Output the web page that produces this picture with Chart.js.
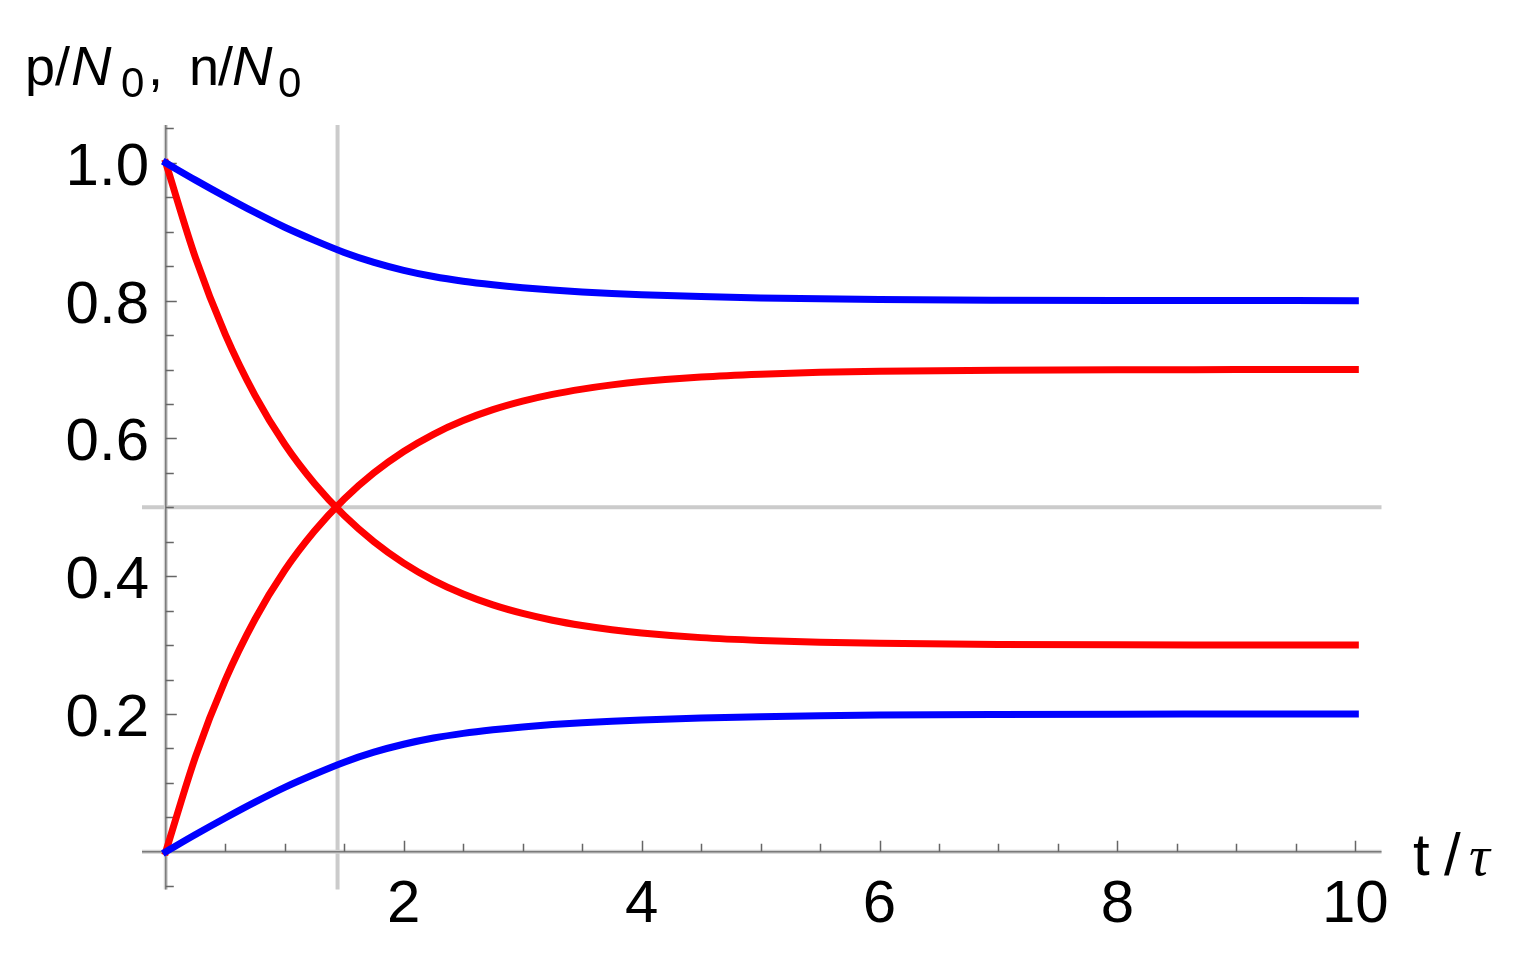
<!DOCTYPE html>
<html>
<head>
<meta charset="utf-8">
<script src="https://cdn.jsdelivr.net/npm/chart.js@4"></script>
<style>
  html, body { margin: 0; padding: 0; background: #fff; }
  canvas { display: block; }
</style>
</head>
<body>
<canvas id="decayChart" width="1515" height="954"></canvas>
<script>
// t / tau sample points
const times = [0, 0.25, 0.5, 0.75, 1, 1.25, 1.5, 1.75, 2, 2.25, 2.5, 2.75, 3, 3.25, 3.5, 3.75, 4, 4.5, 5, 5.5, 6, 7, 8, 9, 10];
const redFalling = [1.0, 0.862, 0.751, 0.6625, 0.5915, 0.5345, 0.488, 0.450, 0.419, 0.394, 0.3741, 0.3583, 0.3459, 0.3361, 0.3284, 0.3223, 0.3175, 0.3108, 0.3067, 0.3041, 0.3025, 0.301, 0.3004, 0.3001, 0.300];
const redRising = [0, 0.138, 0.249, 0.3375, 0.4085, 0.4655, 0.512, 0.550, 0.581, 0.606, 0.6259, 0.6417, 0.6541, 0.6639, 0.6716, 0.6777, 0.6825, 0.6892, 0.6933, 0.6959, 0.6975, 0.699, 0.6996, 0.6999, 0.700];
const blueFalling = [1.0, 0.975, 0.951, 0.928, 0.9065, 0.8875, 0.870, 0.8555, 0.844, 0.835, 0.8282, 0.823, 0.8188, 0.8154, 0.8127, 0.8105, 0.8087, 0.806, 0.804, 0.8026, 0.8016, 0.8007, 0.8003, 0.8001, 0.800];
const blueRising = [0, 0.025, 0.049, 0.072, 0.0935, 0.1125, 0.130, 0.1445, 0.156, 0.165, 0.1718, 0.177, 0.1812, 0.1846, 0.1873, 0.1895, 0.1913, 0.194, 0.196, 0.1974, 0.1984, 0.1993, 0.1997, 0.1999, 0.200];

// ticks and reference lines
const xTickLabels = [2, 4, 6, 8, 10];
const yTickLabels = [0.2, 0.4, 0.6, 0.8, 1.0];
const crossTime = 1.444;
const crossLevel = 0.5;

const pts = ys => times.map((t, i) => ({ x: t, y: ys[i] }));

const FONT = '"Liberation Sans", Arial, sans-serif';

// Mathematica-like axes through the origin, drawn with the chart's own scales
const axesPlugin = {
  id: 'axes',
  beforeDatasetsDraw(chart) {
    const { ctx, chartArea: a, scales: { x, y } } = chart;
    const x0 = x.getPixelForValue(0), y0 = y.getPixelForValue(0);
    ctx.save();

    // grid lines at the crossing point
    ctx.strokeStyle = '#cbcbcb';
    ctx.lineWidth = 4;
    ctx.beginPath();
    const gx = x.getPixelForValue(crossTime), gy = y.getPixelForValue(crossLevel);
    ctx.moveTo(gx, a.top); ctx.lineTo(gx, a.bottom);
    ctx.moveTo(a.left, gy); ctx.lineTo(a.right, gy);
    ctx.stroke();

    // axis lines
    ctx.strokeStyle = '#d0d0d0';
    ctx.lineWidth = 4;
    ctx.beginPath();
    ctx.moveTo(a.left, y0); ctx.lineTo(a.right, y0);
    ctx.moveTo(x0, a.top); ctx.lineTo(x0, a.bottom);
    ctx.stroke();
    ctx.strokeStyle = '#7a7a7a';
    ctx.lineWidth = 1.5;
    ctx.stroke();

    // ticks
    ctx.strokeStyle = '#666';
    ctx.lineWidth = 1.5;
    ctx.beginPath();
    for (let k = 1; k <= 20; k++) {
      const px = Math.round(x.getPixelForValue(k * 0.5)) + 0.5;
      const len = (k % 4 === 0) ? 11 : 8;
      ctx.moveTo(px, y0); ctx.lineTo(px, y0 - len);
    }
    for (let k = -1; k <= 21; k++) {
      if (k === 0) continue;
      const py = Math.round(y.getPixelForValue(k * 0.05)) + 0.5;
      const len = (k % 4 === 0) ? 11 : 8;
      ctx.moveTo(x0, py); ctx.lineTo(x0 + len, py);
    }
    ctx.stroke();

    // tick labels
    ctx.fillStyle = '#000';
    ctx.font = '60px ' + FONT;
    ctx.textBaseline = 'alphabetic';
    ctx.textAlign = 'center';
    xTickLabels.forEach(v => ctx.fillText(String(v), x.getPixelForValue(v), 922));
    ctx.textAlign = 'right';
    yTickLabels.forEach(v => ctx.fillText(v.toFixed(1), 149, y.getPixelForValue(v) + 22));

    // axis titles
    ctx.textAlign = 'left';
    ctx.font = '60px ' + FONT;
    ctx.fillText('t', 1413, 875);
    ctx.fillText('/', 1444, 875);
    ctx.font = 'italic 58px "Liberation Serif", serif';
    ctx.fillText('τ', 1469, 875);

    const reg = '54px ' + FONT, ital = 'italic 56px ' + FONT, sub = '42px ' + FONT;
    ctx.font = reg; ctx.fillText('p', 25, 85); ctx.fillText('/', 55, 85);
    ctx.font = ital; ctx.fillText('N', 71, 85);
    ctx.font = sub; ctx.fillText('0', 121, 97);
    ctx.font = reg; ctx.fillText(',', 148, 85);
    ctx.fillText('n', 189, 85); ctx.fillText('/', 218, 85);
    ctx.font = ital; ctx.fillText('N', 232, 85);
    ctx.font = sub; ctx.fillText('0', 278, 97);
    ctx.restore();
  }
};

const lineStyle = color => ({
  borderColor: color,
  borderWidth: 7,
  pointRadius: 0,
  fill: false,
  cubicInterpolationMode: 'monotone',
  borderCapStyle: 'square'
});

new Chart(document.getElementById('decayChart').getContext('2d'), {
  type: 'line',
  data: {
    datasets: [
      { label: 'p falling', data: pts(blueFalling), ...lineStyle('#0000ff') },
      { label: 'n rising', data: pts(blueRising), ...lineStyle('#0000ff') },
      { label: 'p rising', data: pts(redRising), ...lineStyle('#ff0000') },
      { label: 'n falling', data: pts(redFalling), ...lineStyle('#ff0000') }
    ]
  },
  options: {
    responsive: false,
    animation: false,
    layout: { padding: { left: 142, right: 133.5, top: 125, bottom: 64.4 } },
    plugins: { legend: { display: false }, tooltip: { enabled: false } },
    scales: {
      x: { type: 'linear', min: -0.2, max: 10.22, display: false },
      y: { type: 'linear', min: -0.055, max: 1.055, display: false }
    }
  },
  plugins: [axesPlugin]
});
</script>
</body>
</html>
